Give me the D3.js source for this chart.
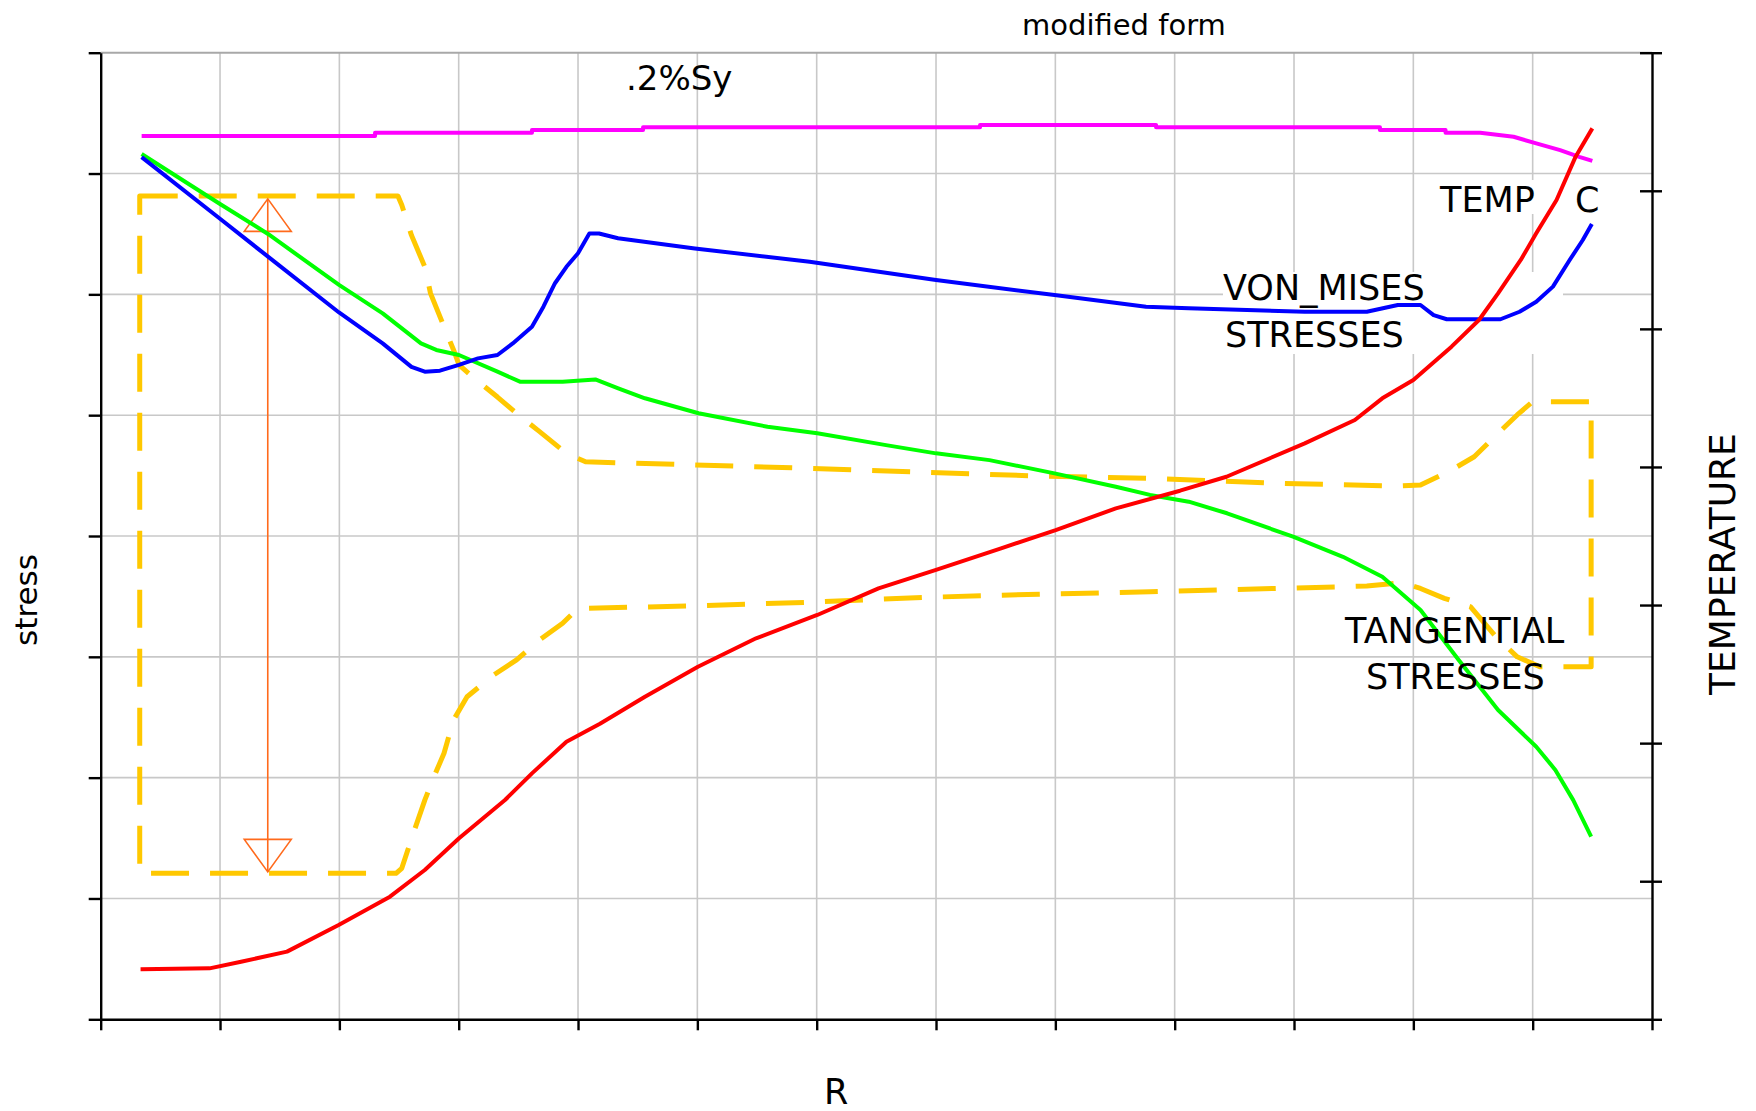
<!DOCTYPE html>
<html>
<head>
<meta charset="utf-8">
<script src="https://cdn.jsdelivr.net/npm/d3@7"></script>
<style>
    body { margin: 0; background: #fff; }
    svg text { font-family: "DejaVu Sans", sans-serif; fill: #000; }
</style>
</head>
<body>
<div id="chart"></div>
<script>
// axis ticks (no labels on the original, only tick marks)
const rTicks = d3.range(0, 131, 10);
const stressTicks = d3.range(0, 401, 50);
const tempTicks = d3.range(0, 701, 100);

// [R, stress] - .2% yield strength
const yieldCurve = [
    [3.43, 365.5], [22.99, 365.5], [22.99, 366.9], [36.14, 366.9], [36.14, 368.0],
    [45.45, 368.0], [45.45, 369.1], [73.69, 369.1], [73.69, 370.1], [88.44, 370.1],
    [88.44, 369.1], [107.2, 369.1], [107.2, 368.0], [112.7, 368.0], [112.7, 366.9],
    [115.6, 366.9], [118.4, 365.2], [120.3, 362.5], [122.3, 359.7], [123.9, 356.9],
    [125.0, 355.2]
];

// [R, stress] - von Mises stresses
const vonMises = [
    [3.43, 356.8], [10.0, 331.3], [14.02, 315.6], [19.97, 292.5], [23.63, 279.7],
    [26.04, 270.0], [27.16, 268.0], [28.43, 268.4], [30.02, 270.8], [31.62, 273.5],
    [33.25, 274.9], [34.53, 279.7], [36.14, 286.6], [37.10, 294.9], [38.07, 304.6],
    [39.03, 311.4], [40.0, 317.0], [40.95, 325.2], [41.76, 325.2], [43.35, 323.2],
    [49.79, 319.0], [59.41, 313.5], [70.0, 305.9], [79.93, 299.7], [87.60, 294.9],
    [91.18, 294.2], [100.9, 292.8], [106.1, 292.8], [108.7, 295.6], [110.6, 295.6],
    [111.7, 291.4], [112.8, 289.7], [117.3, 289.7], [118.9, 292.8], [120.3, 296.9],
    [121.7, 303.2], [123.1, 314.2], [124.2, 322.5], [124.96, 329.1]
];

// [R, stress] - tangential stresses
const tangential = [
    [3.43, 358.1], [10.0, 337.4], [14.02, 325.0], [19.97, 303.9], [23.63, 292.1],
    [26.84, 279.7], [28.12, 277.0], [30.02, 274.9], [33.25, 268.0], [35.18, 263.8],
    [38.71, 263.8], [41.45, 264.8], [43.37, 261.1], [45.61, 257.0], [50.10, 250.8],
    [55.88, 245.2], [60.05, 242.5], [65.81, 237.6], [70.0, 234.2], [74.48, 231.4],
    [79.93, 225.9], [85.07, 220.4], [87.93, 217.0], [91.18, 214.2], [94.39, 209.4],
    [99.92, 199.7], [104.1, 191.4], [107.4, 183.1], [110.6, 169.4], [113.8, 148.7],
    [117.1, 128.0], [120.3, 112.8], [121.9, 103.2], [123.4, 90.7], [124.9, 75.6]
];

// [R, temperature]
const temperature = [
    [3.34, 36.2], [9.12, 36.9], [11.76, 41.7], [15.61, 49.0], [19.94, 68.3],
    [24.24, 88.8], [27.16, 108.1], [30.03, 131.1], [33.88, 158.8], [36.14, 178.1],
    [39.03, 201.0], [41.84, 214.0], [45.61, 233.6], [50.05, 255.3], [54.92, 275.9],
    [60.05, 292.8], [65.18, 312.1], [70.0, 325.4], [75.45, 341.1], [80.03, 354.3],
    [85.07, 370.0], [90.45, 382.8], [94.34, 392.9], [100.9, 417.1], [105.1, 434.0],
    [107.4, 449.7], [110.0, 463.0], [113.2, 487.1], [115.5, 506.4], [117.1, 525.7],
    [119.0, 549.9], [120.3, 569.2], [122.0, 593.3], [123.6, 624.7], [125.0, 645.2]
];

// [R, stress] - allowable stress envelope (closed dashed loop)
const envelope = [
    [3.27, 340.7], [24.91, 340.7], [25.23, 337.0], [26.04, 324.5], [27.16, 311.4],
    [27.64, 300.4], [28.77, 286.6], [29.57, 277.0], [30.03, 270.8], [31.32, 265.2],
    [33.25, 257.5], [35.18, 249.4], [36.78, 243.2], [39.03, 234.2], [40.63, 230.7],
    [49.79, 229.4], [59.41, 228.0], [69.03, 226.4], [78.65, 224.8], [87.93, 223.9],
    [98.63, 221.8], [108.7, 220.7], [110.6, 221.1], [113.2, 227.3], [115.1, 232.8],
    [117.1, 242.5], [118.7, 250.1], [120.0, 255.6], [124.9, 255.6], [124.9, 145.9],
    [120.6, 145.9], [118.7, 150.0], [116.8, 159.0], [114.8, 170.7], [112.6, 174.2],
    [110.6, 178.3], [109.0, 180.7], [106.1, 179.3], [87.93, 176.9], [78.65, 175.9],
    [69.03, 174.6], [59.41, 172.6], [49.79, 171.1], [40.79, 170.1], [40.0, 170.1],
    [38.71, 163.9], [36.78, 157.0], [34.85, 148.7], [32.93, 142.5], [30.70, 133.5],
    [29.57, 123.9], [28.77, 110.1], [27.81, 99.0], [27.16, 90.7], [26.20, 77.0],
    [25.23, 62.5], [24.75, 60.4], [3.27, 60.4]
];

// stress range arrow: R and the two stress ends
const rangeArrow = { r: 14.0, top: 339.5, bottom: 61.0 };

class StressChart {
    static draw(idName) {
        const svg = d3.select('#' + idName).append('svg')
            .attr('width', 1756)
            .attr('height', 1111);

        const scales = {
            x: d3.scaleLinear().domain([0, 130]).range([100.7, 1652]),
            y: d3.scaleLinear().domain([0, 400]).range([1019.3, 52.7]),
            t: d3.scaleLinear().domain([0, 700]).range([1019.3, 52.7])
        };

        this.drawGrid(svg, scales);
        this.drawLabelBoxes(svg);
        this.drawEnvelope(svg, scales);
        this.drawArrow(svg, scales);
        this.drawCurve(svg, yieldCurve, scales.x, scales.y, '#ff00ff');
        this.drawCurve(svg, tangential, scales.x, scales.y, '#00ff00');
        this.drawCurve(svg, vonMises, scales.x, scales.y, '#0000ff');
        this.drawCurve(svg, temperature, scales.x, scales.t, '#ff0000');
        this.drawAxes(svg, scales);
        this.drawTexts(svg);
    }

    static drawGrid(svg, scales) {
        const [x0, x1] = scales.x.range();
        const [y0, y1] = scales.y.range();

        svg.append('g')
            .selectAll('line')
            .data(rTicks.slice(1, -1))
            .enter()
            .append('line')
            .attr('x1', d => scales.x(d))
            .attr('x2', d => scales.x(d))
            .attr('y1', y1)
            .attr('y2', y0)
            .attr('stroke', '#c8c8c8')
            .attr('stroke-width', 1.6);

        svg.append('g')
            .selectAll('line')
            .data(stressTicks.slice(1))
            .enter()
            .append('line')
            .attr('x1', x0)
            .attr('x2', x1)
            .attr('y1', d => scales.y(d))
            .attr('y2', d => scales.y(d))
            .attr('stroke', d => d === 400 ? '#a8a8a8' : '#c8c8c8')
            .attr('stroke-width', d => d === 400 ? 2 : 1.6);
    }

    static drawLabelBoxes(svg) {
        // the labels blank out the grid behind them
        const boxes = [
            { x: 1223, y: 272, w: 340, h: 82 },
            { x: 1438, y: 180, w: 162, h: 34 }
        ];
        svg.append('g')
            .selectAll('rect')
            .data(boxes)
            .enter()
            .append('rect')
            .attr('x', d => d.x)
            .attr('y', d => d.y)
            .attr('width', d => d.w)
            .attr('height', d => d.h)
            .attr('fill', '#fff');
    }

    static drawEnvelope(svg, scales) {
        const line = d3.line()
            .x(d => scales.x(d[0]))
            .y(d => scales.y(d[1]));

        svg.append('path')
            .datum(envelope)
            .attr('fill', 'none')
            .attr('stroke', '#ffc800')
            .attr('stroke-width', 5)
            .attr('stroke-dasharray', '38,21')
            .attr('stroke-linejoin', 'round')
            .attr('d', line(envelope) + 'Z');
    }

    static drawArrow(svg, scales) {
        const ax = scales.x(rangeArrow.r);
        const yTop = scales.y(rangeArrow.top);
        const yBot = scales.y(rangeArrow.bottom);
        const g = svg.append('g')
            .attr('fill', 'none')
            .attr('stroke', '#ff6a1c')
            .attr('stroke-width', 1.6);

        g.append('line')
            .attr('x1', ax).attr('x2', ax)
            .attr('y1', yTop).attr('y2', yBot);

        g.append('path')
            .attr('d', `M${ax},${yTop}l-23.5,32.5h47z`);
        g.append('path')
            .attr('d', `M${ax},${yBot}l-23.5,-32.5h47z`);
    }

    static drawCurve(svg, data, x, y, color) {
        const line = d3.line()
            .x(d => x(d[0]))
            .y(d => y(d[1]));

        svg.append('path')
            .datum(data)
            .attr('fill', 'none')
            .attr('stroke', color)
            .attr('stroke-width', 4)
            .attr('stroke-linejoin', 'round')
            .attr('d', line);
    }

    static drawAxes(svg, scales) {
        const [x0, x1] = scales.x.range();
        const yBottom = scales.y.range()[0];
        const style = g => g.call(s => s.selectAll('text').remove())
            .call(s => s.selectAll('line, path').attr('stroke', '#000').attr('stroke-width', 2.4));

        svg.append('g')
            .attr('transform', `translate(0,${yBottom})`)
            .call(d3.axisBottom(scales.x).tickValues(rTicks).tickSize(11).tickSizeOuter(0))
            .call(style);

        svg.append('g')
            .attr('transform', `translate(${x0},0)`)
            .call(d3.axisLeft(scales.y).tickValues(stressTicks).tickSize(12).tickSizeOuter(0))
            .call(style);

        svg.append('g')
            .attr('transform', `translate(${x1},0)`)
            .call(d3.axisRight(scales.t).tickValues(tempTicks).tickSize(10).tickSizeOuter(0))
            .call(style);

        svg.append('g')
            .attr('transform', `translate(${x1},0)`)
            .call(d3.axisLeft(scales.t).tickValues(tempTicks.slice(1)).tickSize(12).tickSizeOuter(0))
            .call(style)
            .call(g => g.select('.domain').remove());
    }

    static drawTexts(svg) {
        const labels = [
            { text: 'modified form', x: 1022, y: 35, size: 29 },
            { text: '.2%Sy', x: 626, y: 90, size: 34 },
            { text: 'TEMP', x: 1440, y: 212, size: 35 },
            { text: 'C', x: 1575, y: 212, size: 35 },
            { text: 'VON_MISES', x: 1223, y: 300, size: 35 },
            { text: 'STRESSES', x: 1225, y: 347, size: 35 },
            { text: 'TANGENTIAL', x: 1345, y: 643, size: 35 },
            { text: 'STRESSES', x: 1366, y: 689, size: 35 },
            { text: 'R', x: 824, y: 1104, size: 35 }
        ];

        svg.append('g')
            .selectAll('text')
            .data(labels)
            .enter()
            .append('text')
            .attr('x', d => d.x)
            .attr('y', d => d.y)
            .attr('font-size', d => d.size)
            .text(d => d.text);

        svg.append('text')
            .attr('transform', 'translate(37,600) rotate(-90)')
            .attr('text-anchor', 'middle')
            .attr('font-size', 31)
            .text('stress');

        svg.append('text')
            .attr('transform', 'translate(1735,564) rotate(-90)')
            .attr('text-anchor', 'middle')
            .attr('font-size', 36)
            .text('TEMPERATURE');
    }
}

StressChart.draw('chart');
</script>
</body>
</html>
